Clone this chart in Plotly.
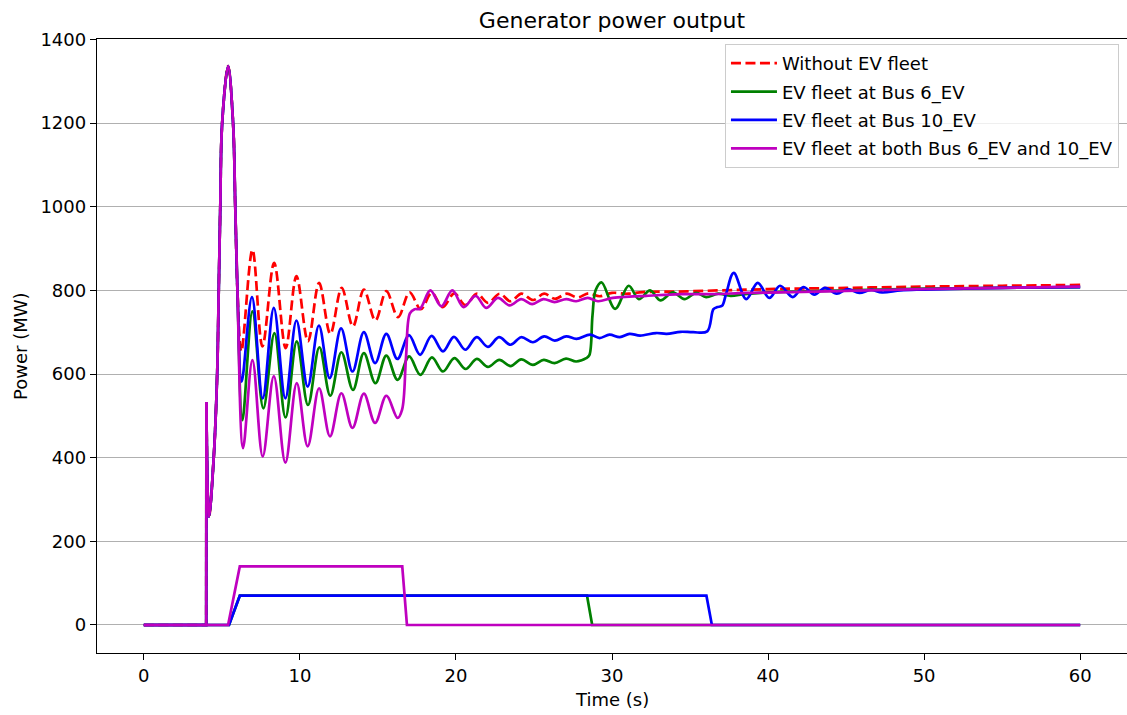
import plotly.graph_objects as go

# ---- generator power output (MW) vs time (s) ----
t_none = [0, 4.0, 4.01, 4.18, 4.48, 4.7, 4.8, 4.9, 5.02, 5.4, 5.72, 5.86, 6.0,
          6.25, 6.96, 7.6, 8.35, 9.09, 9.78, 10.52, 11.23, 11.95, 12.68, 13.4, 14.1,
          14.84, 15.54, 16.29, 17.03, 17.75, 18.45, 19.15, 19.9, 20.6, 21.35, 22.05,
          22.8, 23.5, 24.2, 24.95, 25.65, 26.35, 27.1, 27.8, 28.5, 29.2, 30.0, 31.0,
          32.0, 34.0, 36.0, 38.0, 40.0, 45.0, 50.0, 55.0, 60.0]
p_none = [0, 0, 533, 259, 400, 600, 800, 1000, 1200, 1336, 1200, 1000, 800,
          654, 897, 666, 866, 662, 834, 678, 818, 696, 806, 714, 802,
          728, 798, 736, 795, 755, 794, 760, 793, 765, 792, 770,
          792, 774, 792, 777, 792, 780, 792, 783, 793, 786, 794, 792,
          796, 797, 799, 801, 803, 806, 809, 811, 813]

t_bus6 = [0, 4.0, 4.01, 4.18, 4.48, 4.7, 4.8, 4.9, 5.02, 5.4, 5.72, 5.86, 6.0,
          6.32, 6.96, 7.66, 8.37, 9.08, 9.8, 10.52, 11.25, 11.95, 12.66, 13.4, 14.1,
          14.84, 15.54, 16.26, 17.0, 17.72, 18.46, 19.17, 19.9, 20.62, 21.34, 22.05,
          22.78, 23.5, 24.18, 24.93, 25.63, 26.32, 27.05, 27.7, 28.35, 28.55, 28.75,
          28.95, 29.33, 30.2, 31.07, 31.72, 32.44, 33.1, 33.9, 34.64, 35.39, 36.03,
          36.8, 37.6, 38.5, 40.0, 45.0, 50.0, 55.0, 60.0]
p_bus6 = [0, 0, 533, 259, 400, 600, 800, 1000, 1200, 1336, 1200, 1000, 800,
          490, 750, 518, 698, 496, 678, 526, 664, 548, 652, 562, 650,
          578, 644, 586, 642, 598, 640, 606, 638, 612, 636, 617,
          634, 619, 635, 622, 634, 626, 637, 630, 638, 645, 740,
          800, 819, 756, 811, 779, 800, 776, 795, 779, 794, 784,
          792, 787, 791, 795, 800, 804, 806, 808]

t_bus10 = [0, 4.0, 4.01, 4.18, 4.48, 4.7, 4.8, 4.9, 5.02, 5.4, 5.72, 5.86, 6.0,
           6.27, 6.93, 7.62, 8.33, 9.07, 9.78, 10.5, 11.22, 11.91, 12.64, 13.37, 14.1,
           14.82, 15.54, 16.25, 16.99, 17.7, 18.44, 19.17, 19.87, 20.6, 21.33, 22.05,
           22.76, 23.5, 24.18, 24.93, 25.66, 26.33, 27.07, 27.72, 28.6, 29.2, 29.84,
           30.5, 31.12, 31.8, 32.83, 33.5, 34.4, 35.2, 36.1, 36.5, 36.75, 37.05, 37.3,
           37.8, 38.6, 39.34, 40.08, 40.77, 41.58, 42.26, 42.97, 43.65, 44.4, 45.1,
           45.85, 46.6, 47.3, 48.5, 50.0, 55.0, 60.0]
p_bus10 = [0, 0, 533, 259, 400, 600, 800, 1000, 1200, 1336, 1200, 1000, 800,
           582, 784, 542, 758, 542, 728, 570, 716, 590, 709, 606, 700,
           626, 696, 636, 693, 646, 691, 654, 689, 658, 688, 665,
           688, 670, 688, 676, 690, 680, 690, 684, 694, 686, 694,
           688, 696, 692, 698, 696, 701, 700, 702, 755, 760, 763, 790,
           842, 779, 818, 782, 811, 784, 808, 790, 806, 792, 803,
           794, 801, 795, 800, 802, 806, 808]

t_both = [0, 4.0, 4.01, 4.18, 4.48, 4.7, 4.8, 4.9, 5.02, 5.4, 5.72, 5.86, 6.0,
          6.36, 6.96, 7.62, 8.33, 9.07, 9.8, 10.5, 11.23, 11.93, 12.66, 13.37, 14.1,
          14.82, 15.54, 16.26, 16.55, 16.8, 17.05, 17.35, 17.7, 18.36, 19.06, 19.77,
          20.49, 21.26, 21.94, 22.69, 23.44, 24.18, 24.88, 25.6, 26.32, 27.07, 27.7,
          28.45, 29.1, 30.05, 31.1, 32.2, 34.4, 36.45, 38.6, 40.7, 45.0, 49.7, 55.0, 60.0]
p_both = [0, 0, 533, 259, 400, 600, 800, 1000, 1200, 1336, 1200, 1000, 800,
          423, 633, 403, 595, 388, 578, 427, 566, 451, 554, 471, 553,
          483, 548, 495, 515, 640, 745, 755, 756, 800, 762, 800,
          760, 787, 758, 782, 764, 779, 767, 779, 772, 779, 774,
          782, 774, 782, 785, 787, 791, 791, 794, 795, 799, 803, 806, 809]

# ---- EV fleet power (MW) ----
t_ev6 = [0, 5.46, 6.15, 28.4, 28.73, 60]
p_ev6 = [0, 0, 70, 70, 0, 0]
t_ev10 = [0, 5.46, 6.15, 36.05, 36.4, 60]
p_ev10 = [0, 0, 70, 70, 0, 0]
t_evboth = [0, 5.4, 6.15, 16.56, 16.86, 60]
p_evboth = [0, 0, 140, 140, 0, 0]

labels = ["Without EV fleet", "EV fleet at Bus 6_EV", "EV fleet at Bus 10_EV",
          "EV fleet at both Bus 6_EV and 10_EV"]
colors = ["#ff0000", "#008000", "#0000ff", "#bf00bf"]

LW = 2.7
FONT = "DejaVu Sans"
FS = 18

series = [
    (t_none, p_none, None, None),
    (t_bus6, p_bus6, t_ev6, p_ev6),
    (t_bus10, p_bus10, t_ev10, p_ev10),
    (t_both, p_both, t_evboth, p_evboth),
]

fig = go.Figure()
for i, (tp, pp, te, pe) in enumerate(series):
    grp = f"g{i}"
    dash = "10px,4.5px" if i == 0 else "solid"
    # pre-fault level and the step at fault inception (straight segments)
    fig.add_trace(go.Scatter(
        x=tp[:3], y=pp[:3], mode="lines", legendgroup=grp, showlegend=False,
        line=dict(color=colors[i], width=LW, dash=dash), hoverinfo="skip"))
    # post-fault dynamic response
    fig.add_trace(go.Scatter(
        x=tp[2:], y=pp[2:], mode="lines", name=labels[i], legendgroup=grp,
        line=dict(color=colors[i], width=LW, dash=dash, shape="spline", smoothing=1.0)))
    if te is not None:
        fig.add_trace(go.Scatter(
            x=te, y=pe, mode="lines", legendgroup=grp, showlegend=False,
            line=dict(color=colors[i], width=LW)))

axis_common = dict(zeroline=False, showline=True, linecolor="black", linewidth=1.4,
                   mirror=True, ticks="outside", ticklen=6, tickwidth=1.4,
                   tickcolor="black", tickfont=dict(size=FS, family=FONT))

fig.update_layout(
    width=1127, height=715,
    margin=dict(l=97, r=0, t=39, b=62),
    paper_bgcolor="white", plot_bgcolor="white",
    font=dict(family=FONT, size=FS, color="black"),
    title=dict(text="Generator power output", x=0.5, xref="paper",
               y=1 - 20 / 715, yref="container", yanchor="middle",
               font=dict(size=22, family=FONT, color="black")),
    showlegend=True,
    legend=dict(x=0.9922, xanchor="right", y=0.9919, yanchor="top",
                bgcolor="rgba(255,255,255,0.8)", bordercolor="#cccccc", borderwidth=1,
                font=dict(size=FS, family=FONT), tracegroupgap=2, itemwidth=46,
                traceorder="grouped"),
    xaxis=dict(range=[-3, 63], tickvals=[0, 10, 20, 30, 40, 50, 60],
               showgrid=False, **axis_common),
    yaxis=dict(range=[-67, 1401], tickvals=list(range(0, 1401, 200)),
               showgrid=True, gridcolor="#b0b0b0", gridwidth=1.4, **axis_common),
    annotations=[
        dict(text="Time (s)", x=0.5, xref="paper", y=-0.0765, yref="paper",
             xanchor="center", yanchor="middle", showarrow=False,
             font=dict(size=FS, family=FONT)),
        dict(text="Power (MW)", x=-0.0748, xref="paper", y=0.5, yref="paper",
             xanchor="center", yanchor="middle", showarrow=False, textangle=-90,
             font=dict(size=FS, family=FONT)),
    ],
)

fig.write_html("out.html")
